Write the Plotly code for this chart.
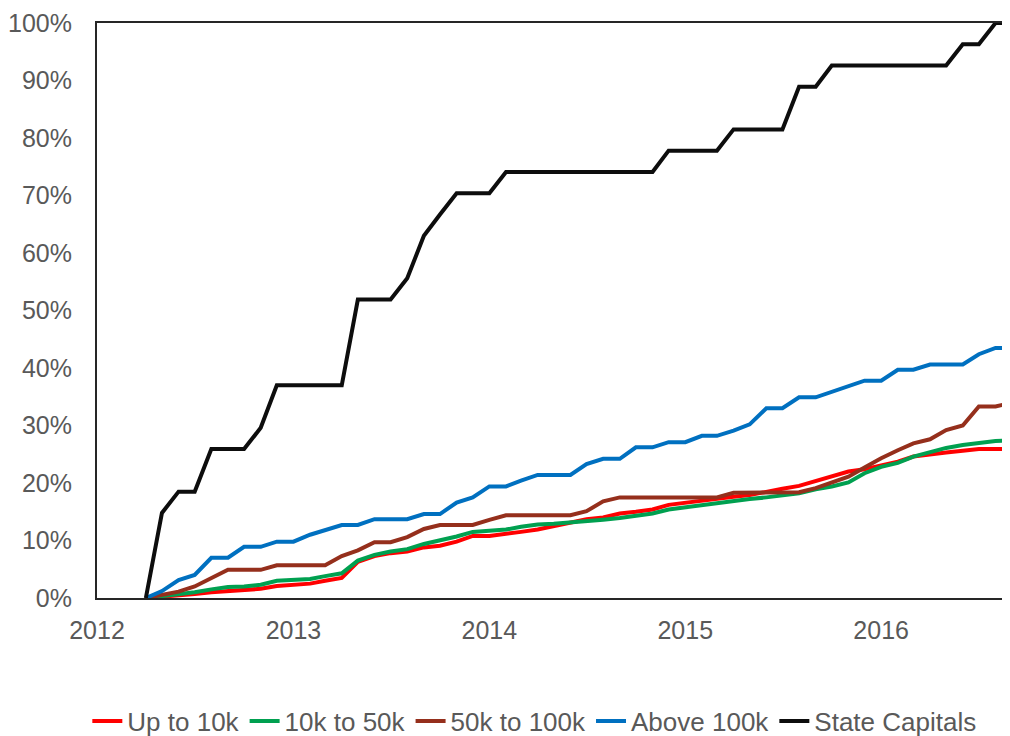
import pandas as pd
import plotly.graph_objects as go

# Monthly observations, April 2012 to September 2016
months = pd.date_range("2012-04-01", "2016-09-01", freq="MS")

series_names = ["Up to 10k", "10k to 50k", "50k to 100k", "Above 100k", "State Capitals"]

up_to_10k = [
    0, 0.2, 0.4, 0.7, 1.0, 1.2, 1.4, 1.6, 2.1,
    2.3, 2.5, 3.0, 3.5, 6.3, 7.3, 7.8, 8.1, 8.8, 9.1, 9.8, 10.8,
    10.8, 11.1, 11.5, 11.9, 12.5, 13.1, 13.7, 14.0, 14.7, 15.0, 15.4, 16.2,
    16.6, 16.9, 17.2, 17.6, 17.9, 18.5, 19.0, 19.5, 20.3, 21.2, 22.0, 22.4,
    23.1, 23.7, 24.6, 25.0, 25.3, 25.6, 25.9, 25.9, 25.9,
]
k10_to_50k = [
    0, 0.3, 0.6, 1.0, 1.5, 1.9, 2.0, 2.3, 3.0,
    3.1, 3.3, 3.8, 4.3, 6.5, 7.5, 8.1, 8.5, 9.4, 10.0, 10.7, 11.5,
    11.7, 11.9, 12.4, 12.8, 12.9, 13.1, 13.3, 13.6, 13.9, 14.3, 14.7, 15.4,
    15.8, 16.1, 16.4, 16.8, 17.2, 17.5, 17.9, 18.2, 18.9, 19.4, 20.1, 21.7,
    22.8, 23.5, 24.6, 25.4, 26.1, 26.6, 27.0, 27.3, 27.4,
]
k50_to_100k = [
    0, 0.5, 1.1, 2.0, 3.5, 4.9, 4.9, 4.9, 5.7,
    5.7, 5.7, 5.7, 7.3, 8.3, 9.7, 9.7, 10.6, 12.0, 12.7, 12.7, 12.7,
    13.6, 14.4, 14.4, 14.4, 14.4, 14.4, 15.1, 16.8, 17.5, 17.5, 17.5, 17.5,
    17.5, 17.5, 17.5, 18.3, 18.3, 18.3, 18.3, 18.4, 19.1, 20.0, 21.1, 22.7,
    24.3, 25.7, 26.9, 27.6, 29.2, 30.0, 33.3, 33.3, 34.0,
]
above_100k = [
    0, 1.2, 3.1, 4.0, 7.0, 7.0, 8.9, 8.9, 9.8,
    9.8, 11.0, 11.8, 12.7, 12.7, 13.7, 13.7, 13.7, 14.6, 14.6, 16.6, 17.5,
    19.4, 19.4, 20.4, 21.4, 21.4, 21.4, 23.3, 24.2, 24.2, 26.2, 26.2, 27.1,
    27.1, 28.2, 28.2, 29.1, 30.2, 33.0, 33.0, 34.9, 34.9, 35.9, 36.9, 37.8,
    37.8, 39.7, 39.7, 40.6, 40.6, 40.6, 42.4, 43.5, 43.5,
]
state_capitals = [
    0, 14.8, 18.5, 18.5, 25.9, 25.9, 25.9, 29.6, 37.0,
    37.0, 37.0, 37.0, 37.0, 51.9, 51.9, 51.9, 55.6, 63.0, 66.7, 70.4, 70.4,
    70.4, 74.1, 74.1, 74.1, 74.1, 74.1, 74.1, 74.1, 74.1, 74.1, 74.1, 77.8,
    77.8, 77.8, 77.8, 81.5, 81.5, 81.5, 81.5, 88.9, 88.9, 92.6, 92.6, 92.6,
    92.6, 92.6, 92.6, 92.6, 92.6, 96.3, 96.3, 100, 100,
]

year_ticks = ["2012-01-01", "2013-01-01", "2014-01-01", "2015-01-01", "2016-01-01"]
year_labels = ["2012", "2013", "2014", "2015", "2016"]

colors = ["#FF0000", "#00A050", "#952F1C", "#0070C0", "#0D0D0D"]
all_series = [up_to_10k, k10_to_50k, k50_to_100k, above_100k, state_capitals]

fig = go.Figure()
for name, vals, col in zip(series_names, all_series, colors):
    fig.add_trace(go.Scatter(
        x=months, y=vals, name=name, mode="lines",
        line=dict(color=col, width=4),
    ))

font_family = "Liberation Sans, Arial, sans-serif"
tick_color = "#595959"

fig.update_layout(
    width=1002, height=728,
    margin=dict(l=89, r=0, t=15, b=138),
    paper_bgcolor="white", plot_bgcolor="white",
    font=dict(family=font_family, size=25, color=tick_color),
    showlegend=True,
    legend=dict(
        orientation="h", xref="paper", x=0.479, xanchor="center",
        yref="container", y=0.0206, yanchor="middle",
        font=dict(family=font_family, size=26, color=tick_color),
        bgcolor="rgba(0,0,0,0)",
    ),
    xaxis=dict(
        type="date", range=["2012-01-01", "2016-08-28"],
        tickmode="array", tickvals=year_ticks, ticktext=year_labels,
        showgrid=False, zeroline=False,
        showline=True, linecolor="#262626", linewidth=2, mirror=True,
        ticks="", ticklabelstandoff=9,
        tickfont=dict(family=font_family, size=25, color=tick_color),
    ),
    yaxis=dict(
        range=[0, 100], tickmode="linear", tick0=0, dtick=10, ticksuffix="%",
        showgrid=False, zeroline=False,
        showline=True, linecolor="#262626", linewidth=2, mirror=False,
        ticks="", ticklabelstandoff=18,
        tickfont=dict(family=font_family, size=25, color=tick_color),
    ),
)

fig.write_html("out.html")
